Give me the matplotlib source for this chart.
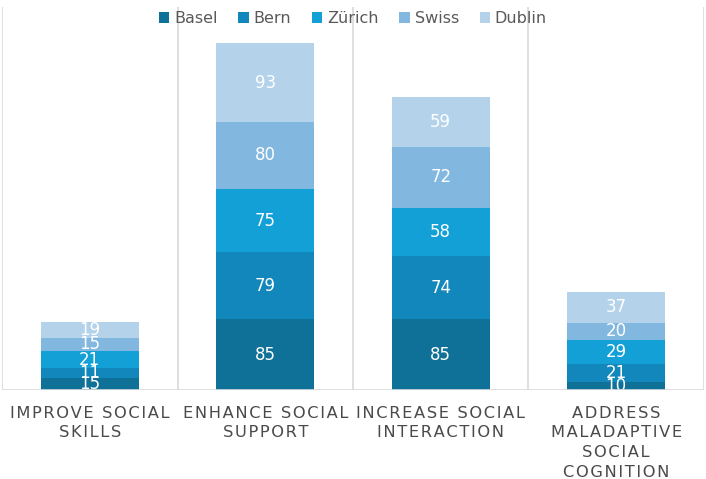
import numpy as np
import matplotlib.pyplot as plt

categories = ['IMPROVE SOCIAL\nSKILLS', 'ENHANCE SOCIAL\nSUPPORT',
              'INCREASE SOCIAL\nINTERACTION', 'ADDRESS\nMALADAPTIVE\nSOCIAL\nCOGNITION']
series = ['Basel', 'Bern', 'Zürich', 'Swiss', 'Dublin']
basel = [15, 85, 85, 10]
bern = [11, 79, 74, 21]
zurich = [21, 75, 58, 29]
swiss = [15, 80, 72, 20]
dublin = [19, 93, 59, 37]
colors = ['#0f7198', '#1287bc', '#12a0d7', '#82b8e0', '#b4d2ea']


def spaced(s):
    return '\n'.join('\u200a'.join(list(line)) for line in s.split('\n'))


def run_main():
    fig, ax = plt.subplots(figsize=(7.06, 4.79), dpi=100)
    fig.subplots_adjust(left=0.003, right=0.997, top=0.985, bottom=0.185)

    x = np.arange(len(categories))
    bottom = np.zeros(len(categories))
    for name, vals, c in zip(series, [basel, bern, zurich, swiss, dublin], colors):
        bars = ax.bar(x, vals, 0.56, bottom=bottom, color=c, label=name, zorder=2)
        ax.bar_label(bars, labels=[str(v) for v in vals], label_type='center',
                     color='white', fontsize=12)
        bottom += np.array(vals)

    ax.set_xlim(-0.5, len(categories) - 0.5)
    ax.set_ylim(0, 455)
    for b in np.arange(-0.5, len(categories), 1.0):
        ax.axvline(b, color='#d9d9d9', lw=1.2, zorder=1)
    ax.axhline(0, color='#d9d9d9', lw=1.2, zorder=3)

    for s in ax.spines.values():
        s.set_visible(False)
    ax.set_yticks([])
    ax.set_xticks(x)
    ax.set_xticklabels([spaced(c) for c in categories], fontsize=11.7,
                       color='#4a4a4a', linespacing=1.4)
    ax.tick_params(axis='x', length=0, pad=11)

    ax.legend(loc='upper center', bbox_to_anchor=(0.5, 1.028), ncol=5,
              frameon=False, fontsize=11.5, labelcolor='#595959',
              handlelength=0.65, handleheight=0.65, handletextpad=0.3,
              columnspacing=1.3)

    fig.savefig('out.png')


if __name__ == "__main__":
    run_main()
